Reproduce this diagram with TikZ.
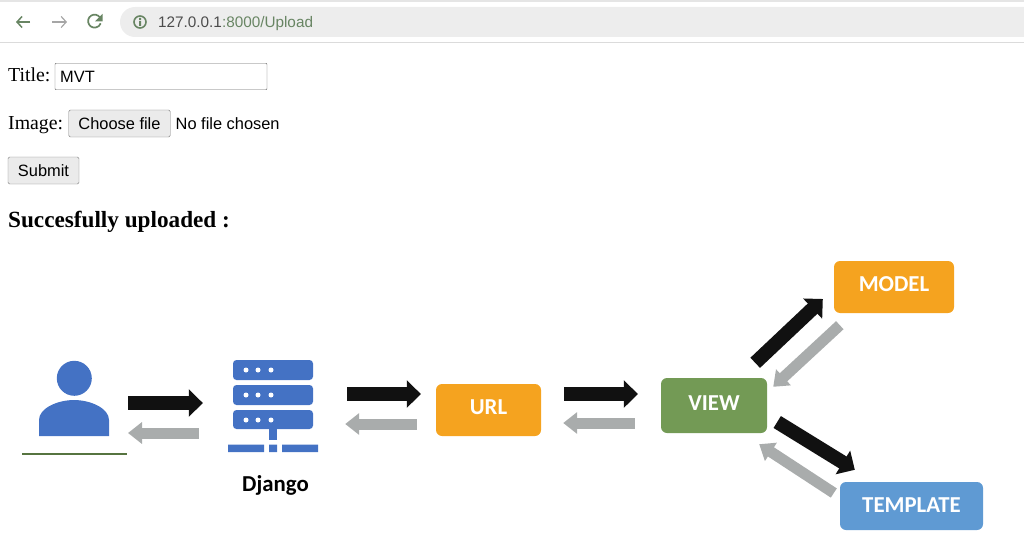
\documentclass[tikz,border=0pt]{standalone}
\usepackage{fontspec}
\setmainfont{Liberation Serif}
\setsansfont{Liberation Sans}
\newfontfamily\carlito{Carlito}
\usetikzlibrary{arrows.meta}
\definecolor{iconblue}{HTML}{4472C4}
\definecolor{boxorange}{HTML}{F5A31F}
\definecolor{boxgreen}{HTML}{739A55}
\definecolor{boxblue}{HTML}{5F9AD3}
\definecolor{arrowgrey}{HTML}{A9ACAC}
\definecolor{arrowblack}{HTML}{111111}
\definecolor{chromegreen}{HTML}{688563}
\begin{document}
\begin{tikzpicture}[x=1pt,y=-1pt,
	fwd arrow/.style={draw=arrowblack,line width=14pt,-{Triangle[length=14pt,width=27pt]}},
	back arrow/.style={draw=arrowgrey,line width=11pt,-{Triangle[length=14pt,width=21pt]}},
	mvt box/.style={rectangle,rounded corners=6pt,inner sep=0pt,text=white,text depth=5pt,font=\carlito\bfseries\fontsize{22.8}{23}\selectfont},
	rack/.style={rectangle,rounded corners=3.5pt,fill=iconblue,minimum width=80pt,minimum height=20pt,inner sep=0pt},
	form label/.style={anchor=base west,inner sep=0pt,font=\fontsize{19.8}{20}\selectfont},
	form text/.style={inner sep=0pt,font=\sffamily\fontsize{16.4}{18}\selectfont},
	form button/.style={rectangle,draw=black!50,fill=black!8,rounded corners=1.5pt,inner sep=0pt,font=\sffamily\fontsize{16.4}{18}\selectfont}]
	\useasboundingbox (0,0) rectangle (1024,559);
	% browser bar
	\fill[black!10] (0,0) rectangle (1024,2);
	\fill[black!7,rounded corners=15pt] (120,7) rectangle (1060,37);
	\draw[black!14,line width=1pt] (0,42.5) -- (1024,42.5);
	\draw[chromegreen,line width=1.5pt,-{Straight Barb[length=5pt,width=11pt]}] (30,22) -- (16,22);
	\draw[black!35,line width=1.2pt,-{Straight Barb[length=5pt,width=11pt]}] (52,22) -- (67,22);
	\draw[chromegreen,line width=1.7pt] (101,20) arc (-10:-340:6.5);
	\fill[chromegreen] (102.5,14) -- (102.5,21.5) -- (95,21.5) -- cycle;
	\draw[chromegreen,line width=1.6pt] (140,22) circle (6);
	\fill[chromegreen] (139,18) rectangle (141,19.8) (139,21) rectangle (141,26);
	\node[anchor=base west,inner sep=0pt,font=\sffamily\fontsize{15.3}{18}\selectfont] (address) at (158,28) {\textcolor{black!70}{127.0.0.1}\textcolor{chromegreen}{:8000/Upload}};
	% form
	\node[form label] (titlelabel) at (8,82) {Title:};
	\node[rectangle,draw=black!60,rounded corners=1pt,minimum width=212pt,minimum height=26.5pt,inner sep=0pt] (titlebox) at (161,76.5) {};
	\node[form text,anchor=base west] (titletext) at (60,83) {MVT};
	\node[form label] (imagelabel) at (8,129) {Image:};
	\node[form button,minimum width=101.5pt,minimum height=27pt] (choose) at (119.5,123.5) {Choose file};
	\node[form text,anchor=base west] (nofile) at (175.5,129) {No file chosen};
	\node[form button,minimum width=71pt,minimum height=27pt] (submit) at (43.5,170.5) {Submit};
	\node[anchor=base west,inner sep=0pt,font=\bfseries\fontsize{23.2}{24}\selectfont] (done) at (8,227) {Succesfully uploaded :};
	% user icon
	\node[circle,fill=iconblue,minimum size=35pt,inner sep=0pt] (head) at (74.3,378.3) {};
	\fill[iconblue] (39,436) -- (39,420) .. controls (39,408) and (58,400) .. (74,400) .. controls (90,400) and (109,408) .. (109,420) -- (109,436) -- cycle;
	\coordinate (user) at (74,418);
	\draw[boxgreen!75!black,line width=1.6pt] (22,453.7) -- (127,453.7);
	% server icon
	\node[rack] (rack1) at (273,370) {};
	\node[rack] (rack2) at (273,395) {};
	\node[rack,minimum height=19pt] (rack3) at (273,419.5) {};
	\foreach \r/\ypos in {1/370,2/395,3/420}
		\foreach \xpos in {246,258,271}
			\fill[white] (\xpos,\ypos) circle (2.5);
	\fill[iconblue] (269.3,429) rectangle (276.7,440);
	\fill[iconblue] (228,444.5) rectangle (264,452) (269,444.5) rectangle (277,452) (282,444.5) rectangle (318,452);
	\node[font=\carlito\bfseries\fontsize{22.8}{23}\selectfont,inner sep=0pt] (django) at (275.5,485) {Django};
	% boxes
	\node[mvt box,fill=boxorange,minimum width=105pt,minimum height=52pt] (url) at (488.5,410) {URL};
	\node[mvt box,fill=boxgreen,minimum width=106pt,minimum height=55pt] (view) at (714,405.5) {VIEW};
	\node[mvt box,fill=boxorange,minimum width=120pt,minimum height=52pt] (model) at (894,287) {MODEL};
	\node[mvt box,fill=boxblue,minimum width=143pt,minimum height=48pt,text depth=1pt] (template) at (911.5,506) {TEMPLATE};
	% arrows
	\draw[fwd arrow] ([shift={(54,-15)}]user) -- ([shift={(-30,8)}]rack2.west);
	\draw[back arrow] ([shift={(-34,38)}]rack2.west) -- ([shift={(54,15)}]user);
	\draw[fwd arrow] ([shift={(34,-1)}]rack2.east) -- ([shift={(-15,-16)}]url.west);
	\draw[back arrow] ([shift={(-19,14)}]url.west) -- ([shift={(32,29)}]rack2.east);
	\draw[fwd arrow] ([shift={(23,-16)}]url.east) -- ([shift={(-23,-11.5)}]view.west);
	\draw[back arrow] ([shift={(-26,17.5)}]view.west) -- ([shift={(22,13)}]url.east);
	\draw[fwd arrow] ([shift={(-12,-15)}]view.north east) -- ([shift={(-11,12)}]model.west);
	\draw[back arrow] ([shift={(6,12)}]model.south west) -- ([shift={(6,9)}]view.north east);
	\draw[fwd arrow] ([shift={(10,16.5)}]view.east) -- ([shift={(15,-12)}]template.north west);
	\draw[back arrow] ([shift={(-6,-13)}]template.west) -- ([shift={(-8,11)}]view.south east);
\end{tikzpicture}
\end{document}
